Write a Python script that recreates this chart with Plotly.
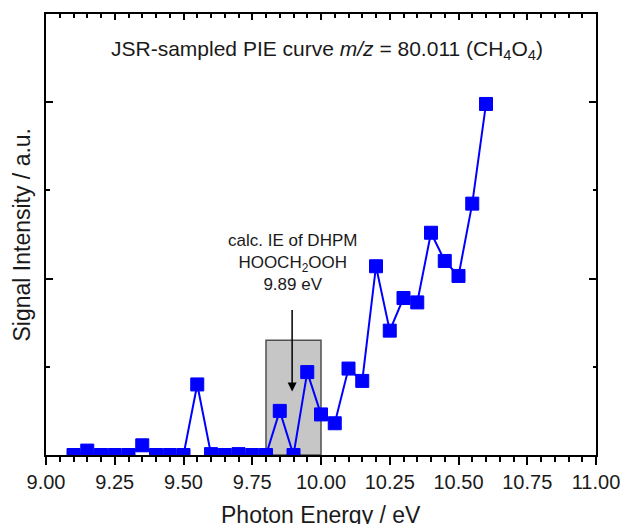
import plotly.graph_objects as go

# ---- data ----
energy = [9.10, 9.15, 9.20, 9.25, 9.30, 9.35, 9.40, 9.45, 9.50, 9.55,
          9.60, 9.65, 9.70, 9.75, 9.80, 9.85, 9.90, 9.95, 10.00, 10.05,
          10.10, 10.15, 10.20, 10.25, 10.30, 10.35, 10.40, 10.45, 10.50, 10.55, 10.60]
signal = [0.0, 0.05, 0.0, 0.0, 0.0, 0.11, 0.0, 0.0, 0.0, 0.80,
          0.01, 0.0, 0.01, 0.0, 0.0, 0.50, 0.0, 0.94, 0.46, 0.36,
          0.98, 0.84, 2.14, 1.41, 1.78, 1.73, 2.52, 2.20, 2.03, 2.85, 3.98]
x_range = [9.0, 11.0]
y_range = [0.0, 5.0]
box_x = [9.80, 10.00]
box_top = 1.30
ie_value = 9.895
arrow_y = [1.66, 0.72]

FONT = "Arial, Liberation Sans, sans-serif"
TXT = "#1a1a1a"

fig = go.Figure()
fig.add_trace(go.Scatter(
    x=energy, y=signal, mode="lines+markers",
    line=dict(color="#0000ff", width=2),
    marker=dict(symbol="square", size=13, color="#0000ff",
                line=dict(color="#0000ff", width=1)),
    showlegend=False, cliponaxis=True,
))
# helper trace so the top axis gets drawn
fig.add_trace(go.Scatter(x=x_range, y=[None, None], xaxis="x2", yaxis="y",
                         showlegend=False, hoverinfo="skip"))

fig.add_shape(type="rect", xref="x", yref="y", x0=box_x[0], x1=box_x[1],
              y0=0, y1=box_top, fillcolor="#c6c6c6",
              line=dict(color="#505050", width=1.5), layer="below")

fig.add_annotation(x=ie_value, y=arrow_y[1], ax=ie_value, ay=arrow_y[0],
                   xref="x", yref="y", axref="x", ayref="y", text="",
                   showarrow=True, arrowhead=2, arrowsize=1.2, arrowwidth=1.5,
                   arrowcolor="black")
fig.add_annotation(x=ie_value, y=2.18, xref="x", yref="y",
                   text="calc. IE of DHPM<br>HOOCH<sub>2</sub>OOH<br>9.89 eV",
                   showarrow=False, font=dict(family=FONT, size=17, color=TXT),
                   align="center", xanchor="center", yanchor="middle")
fig.add_annotation(x=0.51, y=0.918, xref="paper", yref="paper",
                   xanchor="center", yanchor="middle",
                   text="JSR-sampled PIE curve <i>m/z</i> = 80.011 (CH<sub>4</sub>O<sub>4</sub>)",
                   showarrow=False, font=dict(family=FONT, size=21, color=TXT))
# axis titles
fig.add_annotation(x=0.5, y=0, xref="paper", yref="paper", yshift=-60,
                   xanchor="center", yanchor="middle",
                   text="Photon Energy / eV", showarrow=False,
                   font=dict(family=FONT, size=23, color=TXT))
fig.add_annotation(x=0, y=0.5, xref="paper", yref="paper", xshift=-25,
                   xanchor="center", yanchor="middle",
                   text="Signal Intensity / a.u.", showarrow=False, textangle=-90,
                   font=dict(family=FONT, size=23, color=TXT))

fig.update_layout(
    width=632, height=524,
    margin=dict(l=46, r=29, t=14, b=69),
    paper_bgcolor="white", plot_bgcolor="white",
    xaxis=dict(range=x_range, tick0=9.0, dtick=0.25, tickformat=".2f",
               showline=True, linecolor="black", linewidth=2,
               ticks="outside", ticklen=8, tickwidth=1.5, tickcolor="black",
               minor=dict(ticks="outside", dtick=0.05, ticklen=5, tickwidth=1.5,
                          tickcolor="black", showgrid=False),
               showgrid=False, zeroline=False,
               tickfont=dict(family=FONT, size=20, color=TXT)),
    xaxis2=dict(range=x_range, overlaying="x", side="top", tick0=9.0, dtick=0.25,
                showline=True, linecolor="black", linewidth=2,
                ticks="inside", ticklen=6, tickwidth=1.5, tickcolor="black",
                minor=dict(ticks="inside", dtick=0.05, ticklen=3.5, tickwidth=1.5,
                           tickcolor="black", showgrid=False),
                showticklabels=False, showgrid=False, zeroline=False),
    yaxis=dict(range=y_range, tick0=0, dtick=2, showticklabels=False,
               showline=True, linecolor="black", linewidth=2, mirror="ticks",
               ticks="inside", ticklen=7, tickwidth=1.5, tickcolor="black",
               minor=dict(ticks="inside", dtick=1, ticklen=3.5, tickwidth=1.5,
                          tickcolor="black", showgrid=False),
               showgrid=False, zeroline=False),
)

fig.write_html("out.html")
